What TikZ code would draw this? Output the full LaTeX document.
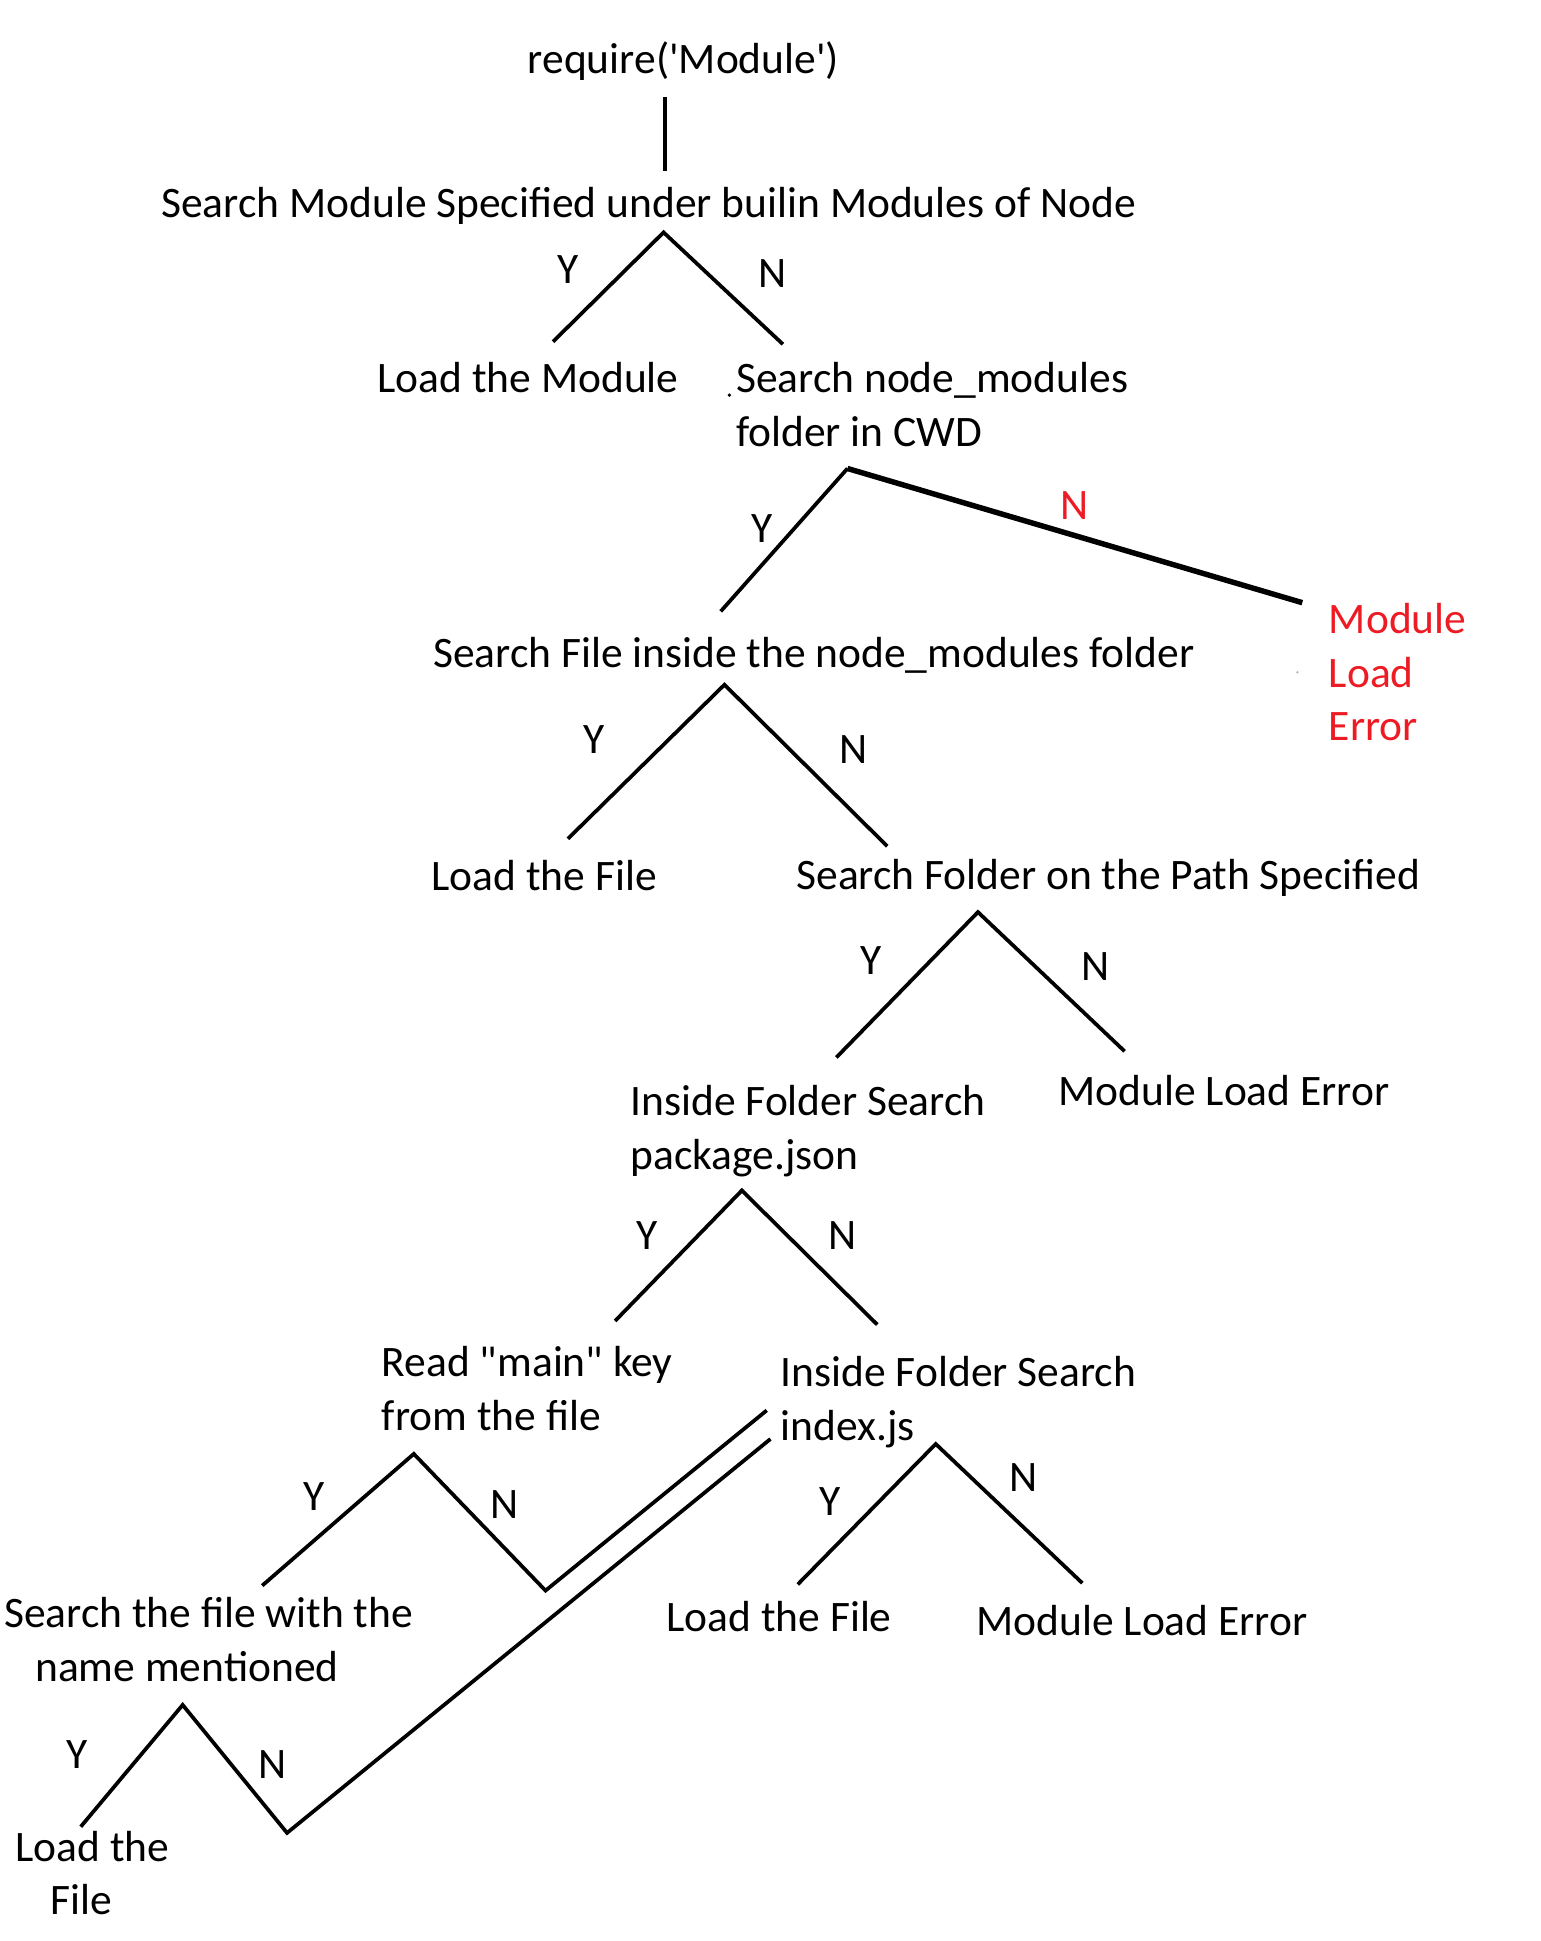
\documentclass[tikz,border=0pt]{standalone}
\usepackage{fontspec}
\newfontfamily\paintfont{Carlito}
\definecolor{errred}{RGB}{237,28,36}
\tikzset{
  every node/.style={font=\paintfont\fontsize{17.5}{21.5}\selectfont, inner sep=0pt},
  branch/.style={line width=1.5pt},
  errtext/.style={text=errred},
}
\begin{document}
\begin{tikzpicture}[x=0.5pt,y=-0.5pt]
\useasboundingbox (0,0) rectangle (1240,1562);

% texts
\node[anchor=base] (req) at (550,59) {require('Module')};
\node[anchor=base] (builtin) at (522,175) {Search Module Specified under builin Modules of Node};
\node[anchor=base] (loadmod) at (425,316) {Load the Module};
\node[anchor=base west, align=left] (cwd) at (592,359) {Search node\_modules\\folder in CWD};
\node[anchor=base] (nmfolder) at (655,537) {Search File inside the node\_modules folder};
\node[anchor=base west, align=left, errtext] (err1) at (1069,596) {Module\\Load\\Error};
\node[anchor=base] (loadfile1) at (438,717) {Load the File};
\node[anchor=base] (path) at (892,716) {Search Folder on the Path Specified};
\node[anchor=base west, align=left] (pkg) at (507,941) {Inside Folder Search\\package.json};
\node[anchor=base] (err2) at (985,890) {Module Load Error};
\node[anchor=base west, align=left] (mainkey) at (307,1151) {Read "main" key\\from the file};
\node[anchor=base west, align=left] (index) at (628,1159) {Inside Folder Search\\index.js};
\node[anchor=base] (loadfile2) at (627,1313) {Load the File};
\node[anchor=base] (err3) at (919,1316) {Module Load Error};
\node[anchor=base west, align=left] (named) at (3,1353) {Search the file with the\\\hspace*{12.5pt}name mentioned};
\node[anchor=base west, align=left] (loadfile3) at (12,1541) {Load the\\\hspace*{14pt}File};

% line ends
\coordinate (c0a) at (535,78);
\coordinate (c0b) at (535,138);
\coordinate (f1) at (534,187);
\coordinate (f1y) at (445,275);
\coordinate (f1n) at (630,277);
\coordinate (f2) at (682,377);
\coordinate (f2y) at (580,492);
\coordinate (f2n) at (1048,485);
\coordinate (f3) at (583,551);
\coordinate (f3y) at (457,675);
\coordinate (f3n) at (714,681);
\coordinate (f4) at (787,734);
\coordinate (f4y) at (673,851);
\coordinate (f4n) at (905,846);
\coordinate (f5) at (597,958);
\coordinate (f5y) at (495,1063);
\coordinate (f5n) at (706,1066);
\coordinate (f6) at (333,1170);
\coordinate (f6y) at (211,1276);
\coordinate (f6n) at (439,1280);
\coordinate (idxa) at (617,1135);
\coordinate (f7) at (753,1162);
\coordinate (f7y) at (642,1275);
\coordinate (f7n) at (871,1274);
\coordinate (f8) at (147,1372);
\coordinate (f8y) at (65,1470);
\coordinate (f8n) at (231,1475);
\coordinate (idxb) at (620,1158);

\draw[branch] (c0a) -- (c0b);
\draw[branch] (f1y) -- (f1) -- (f1n);
\draw[branch] (f2y) -- (f2);
\draw[line width=2.2pt] (f2) -- (f2n);
\draw[branch] (f3y) -- (f3) -- (f3n);
\draw[branch] (f4y) -- (f4) -- (f4n);
\draw[branch] (f5y) -- (f5) -- (f5n);
\draw[branch] (f6y) -- (f6) -- (f6n) -- (idxa);
\draw[branch] (f7y) -- (f7) -- (f7n);
\draw[branch] (f8y) -- (f8) -- (f8n) -- (idxb);

% Y / N labels
\node (y1) at (457,217) {Y};
\node (n1) at (622,220) {N};
\node (y2) at (613,425) {Y};
\node[errtext] (n2) at (865,407) {N};
\node (y3) at (478,595) {Y};
\node (n3) at (687,603) {N};
\node (y4) at (701,773) {Y};
\node (n4) at (882,778) {N};
\node (y5) at (521,994) {Y};
\node (n5) at (678,994) {N};
\node (y6) at (253,1204) {Y};
\node (n6) at (406,1211) {N};
\node (y7) at (668,1208) {Y};
\node (n7) at (824,1189) {N};
\node (y8) at (62,1412) {Y};
\node (n8) at (219,1420) {N};

% stray dots
\fill (587,318) circle (1.5);
\fill[gray!60] (1044,541) circle (1);
\end{tikzpicture}
\end{document}
